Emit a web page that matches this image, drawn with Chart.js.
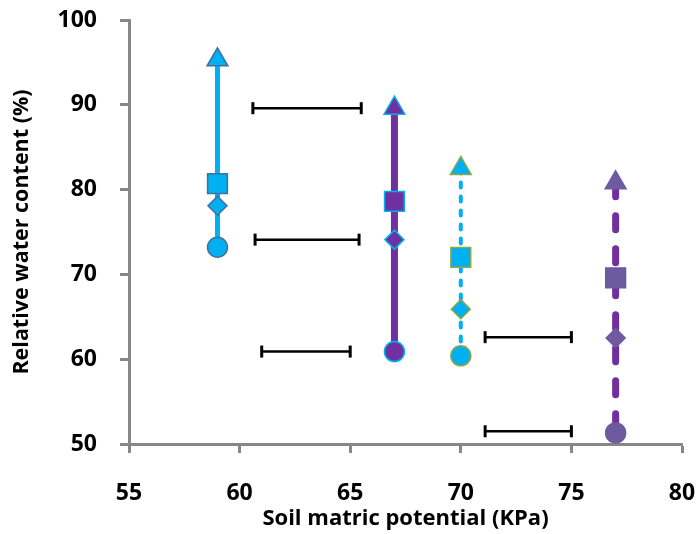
<!DOCTYPE html>
<html>
<head>
<meta charset="utf-8">
<script src="https://cdn.jsdelivr.net/npm/chart.js@4/dist/chart.umd.min.js"></script>
<style>
  html, body { margin: 0; padding: 0; background: #ffffff; }
  #wrap { width: 699px; height: 534px; position: relative; }
</style>
</head>
<body>
<div id="wrap"><canvas id="c" width="699" height="534"></canvas></div>
<script>
// ---- Data ----
const xPositions    = [59, 67, 70, 77];            // soil matric potential (KPa) of each series
const triangleVals  = [95.3, 89.6, 82.5, 80.8];    // relative water content (%)
const squareVals    = [80.7, 78.6, 72.0, 69.6];
const diamondVals   = [78.1, 74.1, 65.9, 62.5];
const circleVals    = [73.2, 60.9, 60.4, 51.3];

const errBarY    = [89.6, 74.1, 60.9, 62.6, 51.5];
const errBarLow  = [60.6, 60.7, 61.0, 71.1, 71.1];
const errBarHigh = [65.5, 65.4, 65.0, 75.0, 75.0];

const xTicks = [55, 60, 65, 70, 75, 80];
const yTicks = [50, 60, 70, 80, 90, 100];

// ---- Styles ----
const seriesStyles = [
  { line: '#00B0F0', width: 5, dash: [], fill: '#00B0F0', border: '#41719C' },
  { line: '#7030A0', width: 7, dash: [], fill: '#7030A0', border: '#00B0F0' },
  { line: '#00B0F0', width: 4, dash: [5, 9], fill: '#00B0F0', border: '#8DA64A' },
  { line: '#7030A0', width: 7, dash: [14, 19], fill: '#6E5A9E', border: '#6E5A9E' }
];

const datasets = xPositions.map((xv, i) => {
  const s = seriesStyles[i];
  return {
    label: 'S' + (i + 1),
    data: [
      { x: xv, y: triangleVals[i] },
      { x: xv, y: squareVals[i] },
      { x: xv, y: diamondVals[i] },
      { x: xv, y: circleVals[i] }
    ],
    borderColor: s.line,
    borderWidth: s.width,
    borderDash: s.dash,
    borderCapStyle: 'round',
    pointStyle: ['triangle', 'rect', 'rectRot', 'circle'],
    pointRadius: [12, 14, 9.5, 10],
    pointBackgroundColor: s.fill,
    pointBorderColor: s.border,
    pointBorderWidth: 1.5,
    showLine: true,
    tension: 0
  };
});

errBarY.forEach((yv, i) => {
  datasets.push({
    label: 'E' + (i + 1),
    data: [{ x: errBarLow[i], y: yv }, { x: errBarHigh[i], y: yv }],
    borderColor: '#000000',
    borderWidth: 2.5,
    pointStyle: 'line',
    rotation: 90,
    pointRadius: 6,
    pointBorderColor: '#000000',
    pointBorderWidth: 3,
    showLine: true
  });
});

const FONT = '"Open Sans", "Liberation Sans", sans-serif';
const axisColor = '#878787';

new Chart(document.getElementById('c'), {
  type: 'scatter',
  data: { datasets },
  options: {
    responsive: false,
    animation: false,
    layout: { padding: { top: 20, right: 17, bottom: 0, left: 0 } },
    plugins: { legend: { display: false }, tooltip: { enabled: false } },
    scales: {
      x: {
        type: 'linear',
        min: 55, max: 80,
        afterBuildTicks: (s) => { s.ticks = xTicks.map(v => ({ value: v })); },
        afterFit: (s) => { s.height = 90; s.paddingLeft = 0; s.paddingRight = 0; },
        border: { display: true, color: axisColor, width: 3 },
        grid: { drawOnChartArea: false, drawTicks: true, tickLength: 9, tickColor: axisColor, tickWidth: 3 },
        ticks: { color: '#000', font: { family: FONT, size: 23, weight: 'bold' }, padding: 27, maxRotation: 0 },
        title: { display: true, text: 'Soil matric potential (KPa)', color: '#000',
                 font: { family: FONT, size: 22, weight: 'bold' }, padding: { top: 0, bottom: 2 } }
      },
      y: {
        type: 'linear',
        min: 50, max: 100,
        afterBuildTicks: (s) => { s.ticks = yTicks.map(v => ({ value: v })); },
        afterFit: (s) => { s.width = 129; s.paddingTop = 0; s.paddingBottom = 0; },
        border: { display: true, color: axisColor, width: 3 },
        grid: { drawOnChartArea: false, drawTicks: true, tickLength: 9, tickColor: axisColor, tickWidth: 3 },
        ticks: { color: '#000', font: { family: FONT, size: 23, weight: 'bold' }, padding: 23 },
        title: { display: true, text: 'Relative water content (%)', color: '#000',
                 font: { family: FONT, size: 21.5, weight: 'bold' }, padding: { top: 9, bottom: 0 } }
      }
    }
  }
});
</script>
</body>
</html>
